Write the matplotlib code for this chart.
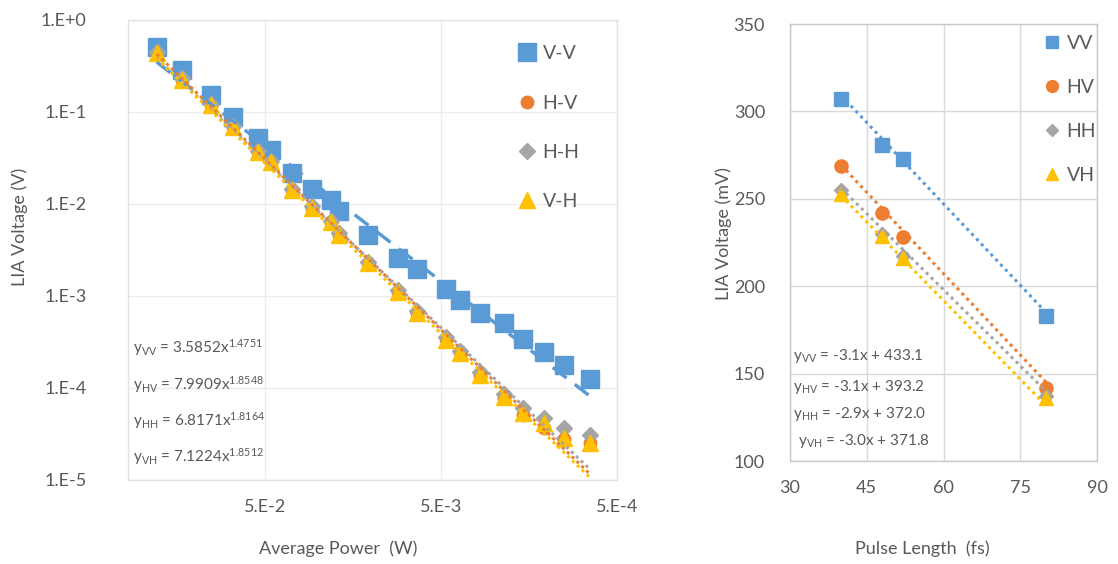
import numpy as np
import matplotlib
matplotlib.use("Agg")
import matplotlib.pyplot as plt
from matplotlib.lines import Line2D

# --------------------
# Data: power sweep (log-log) for four polarisation configs
# --------------------
power_w = [0.206, 0.148, 0.101, 0.076, 0.055, 0.046, 0.035, 0.027, 0.021, 0.019,
           0.013, 0.0088, 0.0068, 0.0047, 0.0039, 0.0030, 0.0022, 0.0017, 0.0013,
           0.0010, 0.00071]
lia_vv = [0.51, 0.286, 0.153, 0.088, 0.052, 0.039, 0.0217, 0.0146, 0.0110, 0.0084,
          0.0046, 0.00259, 0.00197, 0.00119, 0.00091, 0.00065, 0.00051, 0.00034,
          0.000246, 0.000178, 0.000125]
lia_hv = [0.43, 0.225, 0.118, 0.069, 0.037, 0.0285, 0.0141, 0.0091, 0.0064, 0.0046,
          0.00226, 0.00110, 0.00066, 0.00034, 0.000245, 0.000140, 7.8e-5, 5.1e-5,
          3.7e-5, 2.8e-5, 2.5e-5]
lia_hh = [0.45, 0.232, 0.122, 0.071, 0.038, 0.0292, 0.0146, 0.0094, 0.0066, 0.0048,
          0.00235, 0.00115, 0.00069, 0.00036, 0.000255, 0.000148, 8.6e-5, 6.1e-5,
          4.7e-5, 3.7e-5, 3.1e-5]
lia_vh = [0.438, 0.223, 0.119, 0.0687, 0.0367, 0.0286, 0.0142, 0.0091, 0.0064, 0.0046,
          0.00228, 0.00110, 0.00065, 0.00033, 0.00024, 0.000138, 8.0e-5, 5.35e-5,
          4.17e-5, 2.86e-5, 2.52e-5]

# power-law fit coefficients y = a * x^b
fit_a = {"VV": 3.5852, "HV": 7.9909, "HH": 6.8171, "VH": 7.1224}
fit_b = {"VV": 1.4751, "HV": 1.8548, "HH": 1.8164, "VH": 1.8512}

# --------------------
# Data: pulse length sweep (linear)
# --------------------
pulse_fs = [40, 48, 52, 80]
pulse_vv = [307, 281, 273, 183]
pulse_hv = [269, 242, 228, 142]
pulse_hh = [255, 230, 217, 137]
pulse_vh = [253, 229, 216, 136]

# linear fit coefficients y = m * x + c
lin_m = {"VV": -3.1, "HV": -3.1, "HH": -2.9, "VH": -3.0}
lin_c = {"VV": 433.1, "HV": 393.2, "HH": 372.0, "VH": 371.8}

left_yticks = [1e0, 1e-1, 1e-2, 1e-3, 1e-4, 1e-5]
left_yticklabels = ["1.E+0", "1.E-1", "1.E-2", "1.E-3", "1.E-4", "1.E-5"]
left_xticks = [5e-2, 5e-3, 5e-4]
left_xticklabels = ["5.E-2", "5.E-3", "5.E-4"]
right_xticks = [30, 45, 60, 75, 90]
right_yticks = [100, 150, 200, 250, 300, 350]

# --------------------
# Style
# --------------------
BLUE = "#5B9BD5"
ORANGE = "#ED7D31"
GRAY = "#A5A5A5"
YELLOW = "#FFC000"
TEXT = "#595959"

plt.rcParams["font.family"] = ["Lato", "DejaVu Sans"]
plt.rcParams["mathtext.fontset"] = "custom"
plt.rcParams["mathtext.rm"] = "Lato"
plt.rcParams["mathtext.it"] = "Lato"

W, H = 1118, 564
fig = plt.figure(figsize=(W / 100, H / 100), dpi=100)


def px_axes(l, t, r, b):
    return fig.add_axes([l / W, 1 - b / H, (r - l) / W, (b - t) / H])


def style_axes(ax, frame, grid):
    for s in ax.spines.values():
        s.set_color(frame)
        s.set_linewidth(1.0)
    ax.grid(True, color=grid, linewidth=1.0)
    ax.set_axisbelow(True)
    ax.tick_params(length=0, labelcolor=TEXT, labelsize=13)


# --------------------
# Left: LIA voltage vs average power
# --------------------
ax1 = px_axes(128, 20, 617, 480)
style_axes(ax1, "#e2e2e2", "#ececec")
ax1.set_xscale("log")
ax1.set_yscale("log")
ax1.set_xlim(0.30, 5e-4)
ax1.set_ylim(1e-5, 1.0)

series_left = [
    ("V-V", "VV", lia_vv, BLUE, "s", 13, (0, (5, 3)), 2.5),
    ("H-V", "HV", lia_hv, ORANGE, "o", 9, (0, (1, 1.2)), 2.2),
    ("H-H", "HH", lia_hh, GRAY, "D", 8, (0, (1, 1.2)), 2.2),
    ("V-H", "VH", lia_vh, YELLOW, "^", 11, (0, (1, 1.2)), 2.2),
]
handles = []
p = np.array(power_w)
for label, key, vals, color, mk, ms, ls, lw in series_left:
    ax1.plot(power_w, vals, linestyle="none", marker=mk, markersize=ms,
             color=color, zorder=3)
    xs = np.geomspace(p.max(), p.min(), 60)
    ax1.plot(xs, fit_a[key] * xs ** fit_b[key], color=color, linestyle=ls,
             linewidth=lw, zorder=4)
    handles.append(Line2D([], [], linestyle="none", marker=mk, markersize=ms,
                          color=color, label=label))

ax1.set_yticks(left_yticks)
ax1.set_yticklabels(left_yticklabels)
ax1.set_xticks(left_xticks)
ax1.set_xticklabels(left_xticklabels)
ax1.minorticks_off()
ax1.tick_params(axis="y", pad=30)
ax1.tick_params(axis="x", pad=14)
ax1.set_ylabel("LIA Voltage (V)", color=TEXT, fontsize=13)
ax1.yaxis.set_label_coords(-0.205, 0.55)
ax1.set_xlabel("Average Power  (W)", color=TEXT, fontsize=13)
ax1.xaxis.set_label_coords(0.43, -0.132)

leg1 = ax1.legend(handles=handles, loc="upper left", bbox_to_anchor=(0.78, 0.962),
                  frameon=False, fontsize=14, labelspacing=1.66,
                  handlelength=1.0, handletextpad=0.3, borderaxespad=0)
for t in leg1.get_texts():
    t.set_color(TEXT)

left_eqs = [
    r"y$_{\mathrm{VV}}$ = 3.5852x$^{1.4751}$",
    r"y$_{\mathrm{HV}}$ = 7.9909x$^{1.8548}$",
    r"y$_{\mathrm{HH}}$ = 6.8171x$^{1.8164}$",
    r"y$_{\mathrm{VH}}$ = 7.1224x$^{1.8512}$",
]
for i, eq in enumerate(left_eqs):
    ax1.text(0.01, 0.287 - i * 0.079, eq, transform=ax1.transAxes,
             color=TEXT, fontsize=11, va="center", ha="left")

# --------------------
# Right: LIA voltage vs pulse length
# --------------------
ax2 = px_axes(790, 24, 1097, 461)
style_axes(ax2, "#c9c9c9", "#d9d9d9")
ax2.set_xlim(30, 90)
ax2.set_ylim(100, 350)
ax2.set_xticks(right_xticks)
ax2.set_yticks(right_yticks)

series_right = [
    ("VV", pulse_vv, BLUE, "s", 9.5),
    ("HV", pulse_hv, ORANGE, "o", 9.5),
    ("HH", pulse_hh, GRAY, "D", 7),
    ("VH", pulse_vh, YELLOW, "^", 10),
]
handles2 = []
xfit = np.array([min(pulse_fs), max(pulse_fs)])
for key, vals, color, mk, ms in series_right:
    ax2.plot(pulse_fs, vals, linestyle="none", marker=mk, markersize=ms,
             color=color, zorder=3)
    ax2.plot(xfit, lin_m[key] * xfit + lin_c[key], color=color,
             linestyle=(0, (1, 1.3)), linewidth=2.2, zorder=4)
    handles2.append(Line2D([], [], linestyle="none", marker=mk, markersize=ms * 0.9,
                           color=color, label=key))

ax2.tick_params(axis="y", pad=18)
ax2.tick_params(axis="x", pad=14)
ax2.set_ylabel("LIA Voltage (mV)", color=TEXT, fontsize=13)
ax2.yaxis.set_label_coords(-0.19, 0.52)
ax2.set_xlabel("Pulse Length  (fs)", color=TEXT, fontsize=13)
ax2.xaxis.set_label_coords(0.43, -0.181)

leg2 = ax2.legend(handles=handles2, loc="upper left", bbox_to_anchor=(0.8, 0.992),
                  frameon=False, fontsize=14, labelspacing=1.38,
                  handlelength=0.9, handletextpad=0.3, borderaxespad=0)
for t in leg2.get_texts():
    t.set_color(TEXT)

right_eqs = [
    r"y$_{\mathrm{VV}}$ = -3.1x + 433.1",
    r"y$_{\mathrm{HV}}$ = -3.1x + 393.2",
    r"y$_{\mathrm{HH}}$ = -2.9x + 372.0",
    r"y$_{\mathrm{VH}}$ = -3.0x + 371.8",
]
eq_y = [0.24, 0.17, 0.108, 0.045]
eq_x = [0.01, 0.01, 0.01, 0.025]
for x, y, eq in zip(eq_x, eq_y, right_eqs):
    ax2.text(x, y, eq, transform=ax2.transAxes, color=TEXT, fontsize=11,
             va="center", ha="left")

fig.savefig("out.png", dpi=100, facecolor="white")
